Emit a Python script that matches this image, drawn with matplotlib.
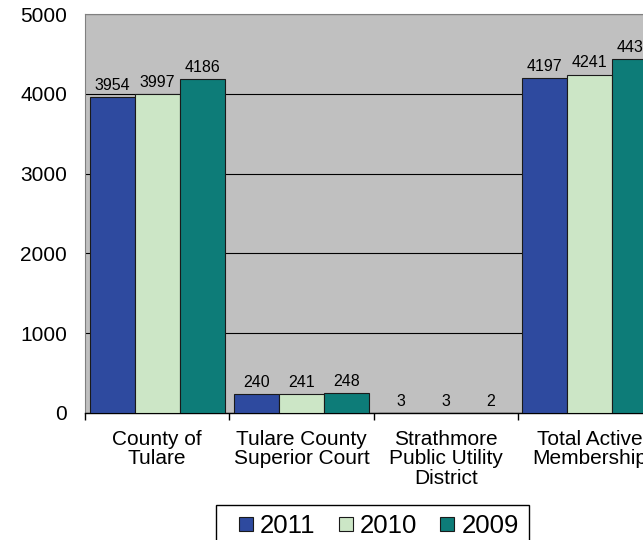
import matplotlib
matplotlib.use("Agg")
import matplotlib.pyplot as plt
from matplotlib.patches import Rectangle
import numpy as np

categories = ["County of\nTulare", "Tulare County\nSuperior Court", "Strathmore\nPublic Utility\nDistrict", "Total Active\nMembership"]
series_names = ["2011", "2010", "2009"]
v2011 = [3954, 240, 3, 4197]
v2010 = [3997, 241, 3, 4241]
v2009 = [4186, 248, 2, 4436]
yticks = [0, 1000, 2000, 3000, 4000, 5000]

colors = ["#2E4A9F", "#CCE6C6", "#0D7C78"]

plt.rcParams['font.family'] = ['Liberation Sans', 'DejaVu Sans']

fig = plt.figure(figsize=(6.43, 5.40), dpi=100)
ax = fig.add_axes([85/643, (540-413)/540, 577/643, 399/540])
ax.set_facecolor("#C0C0C0")

x = np.arange(len(categories))
w = 0.312
offsets = [-w, 0, w]
for vals, off, c, name in zip([v2011, v2010, v2009], offsets, colors, series_names):
    ax.bar(x + off, vals, width=w, color=c, edgecolor="#1a1a1a", linewidth=0.8, label=name, zorder=3)
    for xi, v in zip(x + off, vals):
        ax.annotate(str(v), (xi, v), xytext=(0, 3), textcoords="offset points",
                    ha="center", va="bottom", fontsize=11.5, color="black", zorder=4)

ax.set_xlim(-0.5, len(categories) - 0.5)
ax.set_ylim(0, 5000)
ax.set_yticks(yticks)
ax.set_yticklabels([str(t) for t in yticks], fontsize=15)
ax.tick_params(axis='y', length=0, pad=13)
ax.yaxis.grid(True, color="black", linewidth=0.8, zorder=0)
ax.set_axisbelow(True)

ax.set_xticks(x)
ax.set_xticklabels(categories, fontsize=15, linespacing=1.05)
ax.set_xticks(np.arange(-0.5, len(categories), 1.0), minor=True)
ax.tick_params(axis='x', which='major', length=0, pad=12)
ax.tick_params(axis='x', which='minor', length=5, width=1, color="black", direction="out")

ax.spines['top'].set_color("#808080")
ax.spines['left'].set_color("#808080")
ax.spines['right'].set_color("#808080")
ax.spines['bottom'].set_color("black")
ax.spines['bottom'].set_linewidth(1.0)

# legend frame
fig.patches.append(Rectangle((216/643, -0.05), (529-216)/643, 35/540 + 0.05,
                             transform=fig.transFigure, facecolor="white",
                             edgecolor="black", linewidth=1.0, zorder=1))
leg = fig.legend(loc="upper left", bbox_to_anchor=(239/643, (540-514)/540), ncol=3,
                 fontsize=18.5, frameon=False,
                 handlelength=0.55, handleheight=0.45, handletextpad=0.27,
                 columnspacing=0.9, borderpad=0, borderaxespad=0)
for h in leg.legend_handles:
    h.set_edgecolor("#1a1a1a")
    h.set_linewidth(0.8)
leg.set_zorder(5)

fig.savefig("out.png", dpi=100)
